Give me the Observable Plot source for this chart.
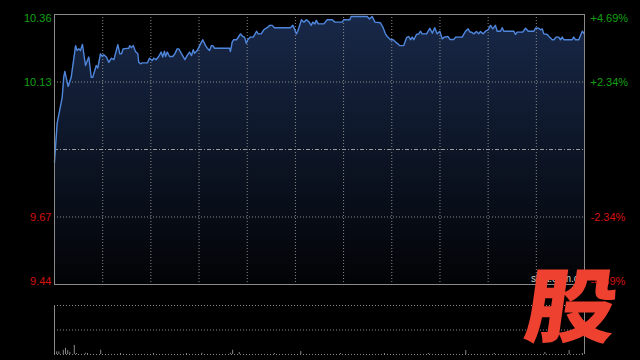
<!DOCTYPE html>
<html><head><meta charset="utf-8">
<script src="https://cdn.jsdelivr.net/npm/d3@7"></script>
<script src="https://cdn.jsdelivr.net/npm/@observablehq/plot@0.6"></script>
<style>
html,body{margin:0;padding:0;background:#000;}
#wrap{position:relative;width:640px;height:360px;background:#000;overflow:hidden;font-family:"Liberation Sans",Arial,sans-serif;}
#main,#vol{position:absolute;left:0;}
#main{top:0}
#vol{top:290px}
#wm{position:absolute;left:531px;top:273px;font-size:10px;line-height:12px;color:#cfcfcf;}
#logo{position:absolute;left:532px;top:260px;font-family:"Noto Sans CJK SC";font-weight:900;font-size:81px;line-height:81px;color:#ee4130;transform:skewX(-8deg) scaleX(1.13);transform-origin:50% 50%;}
</style></head><body>
<div id="wrap"><div id="main"></div><div id="vol"></div><div id="wm">sina.com.cn</div><div id="logo">股</div></div>
<script>
// ---- data ----
const sessionMinutes = 241;
const prevClose = 9.90;
const leftTicks = [10.36, 10.13, 9.67, 9.44];
const leftLabels = ["10.36", "10.13", "9.67", "9.44"];
const rightLabels = ["+4.69%", "+2.34%", "-2.34%", "-4.69%"];
const labelColors = ["#12a012", "#12a012", "#d41010", "#d41010"];

const times = [0,1.2,3.5,4.2,4.7,6.2,7.6,9.6,10.3,11.1,
11.8,12.7,14.1,15.6,16.7,17.4,19.0,19.7,20.9,21.7,
22.4,23.6,24.7,25.9,27.0,27.7,28.8,29.7,30.5,31.2,
33.8,34.2,35.0,35.8,36.8,37.9,38.3,39.1,39.9,42.2,
43.2,44.4,45.2,46.2,47.4,48.5,49.2,50.0,50.5,51.3,
52.3,53.8,54.7,55.8,56.5,57.8,59.3,60.3,61.4,62.3,
63.1,63.7,64.9,66.4,67.4,68.7,69.7,70.5,71.4,72.0,
72.8,79.6,80.0,80.8,81.5,82.8,83.8,84.6,85.6,86.4,
87.2,87.9,89.1,90.4,91.1,91.9,92.6,94.0,95.2,96.7,
97.9,99.0,100.0,107.3,108.4,109.1,110.0,110.6,111.5,112.3,
113.4,114.6,115.8,116.7,117.5,118.4,119.1,119.9,122.5,124.0,
126.3,127.5,130.8,131.6,134.3,134.9,142.2,143.2,144.5,145.7,
148.2,149.3,150.5,151.3,152.8,154.0,155.1,156.1,156.9,158.8,
160.1,161.1,161.9,162.7,163.4,164.6,165.7,166.4,167.2,169.2,
170.7,171.8,172.9,174.0,175.2,176.3,177.3,178.9,179.8,181.6,
182.4,185.4,186.9,188.1,188.9,189.6,190.7,191.9,192.9,193.7,
194.9,196.0,197.2,198.3,199.3,200.5,201.3,202.8,203.6,204.3,
208.9,209.6,210.4,212.9,214.2,215.4,218.0,218.7,220.2,221.0,
221.8,222.5,224.1,225.1,226.3,227.1,228.1,229.3,230.1,230.9,
231.6,235.4,236.1,236.9,238.4,240.0,241];

const prices = [9.857,9.989,10.078,10.146,10.166,10.115,10.146,10.254,10.237,10.243,
10.237,10.258,10.186,10.215,10.146,10.146,10.186,10.178,10.226,10.217,
10.223,10.215,10.197,10.211,10.206,10.226,10.257,10.226,10.226,10.243,
10.245,10.254,10.247,10.254,10.234,10.226,10.197,10.192,10.195,10.195,
10.211,10.203,10.211,10.206,10.217,10.232,10.215,10.235,10.217,10.232,
10.217,10.217,10.226,10.243,10.243,10.226,10.206,10.220,10.232,10.220,
10.240,10.228,10.237,10.260,10.274,10.254,10.243,10.237,10.254,10.254,
10.245,10.245,10.234,10.266,10.274,10.274,10.285,10.294,10.285,10.283,
10.262,10.274,10.283,10.283,10.292,10.303,10.294,10.294,10.308,10.315,
10.323,10.323,10.315,10.315,10.323,10.311,10.294,10.303,10.323,10.342,
10.334,10.342,10.334,10.323,10.334,10.328,10.340,10.328,10.328,10.342,
10.342,10.334,10.334,10.342,10.342,10.353,10.353,10.345,10.353,10.334,
10.332,10.317,10.294,10.285,10.274,10.274,10.266,10.260,10.254,10.254,
10.281,10.285,10.274,10.283,10.274,10.292,10.294,10.303,10.294,10.294,
10.313,10.296,10.315,10.294,10.303,10.277,10.283,10.285,10.275,10.275,
10.283,10.283,10.303,10.311,10.300,10.300,10.294,10.302,10.294,10.302,
10.294,10.303,10.308,10.323,10.311,10.323,10.303,10.303,10.315,10.303,
10.303,10.292,10.300,10.300,10.313,10.303,10.303,10.313,10.313,10.308,
10.311,10.294,10.292,10.283,10.274,10.274,10.283,10.283,10.274,10.283,
10.274,10.274,10.283,10.274,10.274,10.303,10.294];

const volTimes  = [0,1,2,4,5,6,7,9,10,14,15,21,30,45,60,67,80,81,84,100,112,130,150,170,187,200,223,234,240];
const volValues = [2.7,2.7,2.7,4.3,6.3,4,2.3,9.3,1,1.3,1,4.3,1,1,1,1.3,1.3,4.3,2,1,3,1,1,1,4,1,2,4,1];
const volMax = 50;

if (times.length !== prices.length) throw new Error("length mismatch " + times.length + " vs " + prices.length);

// ---- chart ----
const data = times.map((t, i) => ({t, price: prices[i]}));
const yMax = leftTicks[0], yMin = leftTicks[leftTicks.length - 1];
const gridLevels = leftTicks.slice(1, -1);
const xGrid = d3.range(1, 11).map(i => i * sessionMinutes / 11);
const gridStyle = {stroke: "#8a8a8a", strokeDasharray: "1,2"};

function labelMarks(texts, anchor, dx, textAnchor) {
  return texts.map((s, i) => Plot.text([i], {
    y: k => leftTicks[k], text: k => texts[k], frameAnchor: anchor, dx, textAnchor,
    fill: labelColors[i], lineAnchor: i === 0 ? "top" : i === texts.length - 1 ? "bottom" : "middle"
  }));
}

const main = Plot.plot({
  width: 640, height: 290,
  marginLeft: 54, marginRight: 56, marginTop: 14, marginBottom: 6,
  x: {domain: [0, sessionMinutes], axis: null},
  y: {domain: [yMin, yMax], axis: null},
  style: {background: "transparent", fontFamily: "Liberation Sans, Arial, sans-serif", fontSize: "11px"},
  marks: [
    Plot.areaY(data, {x: "t", y1: () => yMin, y2: "price", fill: "url(#pgrad)"}),
    Plot.ruleX(xGrid, gridStyle),
    Plot.ruleY(gridLevels, gridStyle),
    Plot.ruleY([prevClose], {stroke: "#9a9a9a", strokeDasharray: "4,2,1,2"}),
    Plot.lineY(data, {x: "t", y: "price", stroke: "#4f86dc", strokeWidth: 1.4}),
    Plot.frame({stroke: "#8a8a8a"}),
    ...labelMarks(leftLabels, "left", -3, "end"),
    ...labelMarks(rightLabels, "right", 6, "start")
  ]
});
const defs = d3.select(main).insert("defs", ":first-child");
const grad = defs.append("linearGradient").attr("id", "pgrad")
  .attr("x1", 0).attr("y1", 0).attr("x2", 0).attr("y2", 1);
grad.append("stop").attr("offset", "0%").attr("stop-color", "#182848");
grad.append("stop").attr("offset", "100%").attr("stop-color", "#020305");
document.getElementById("main").appendChild(main);

const volData = volTimes.map((t, i) => ({t, v: volValues[i]}));
const vol = Plot.plot({
  width: 640, height: 70,
  marginLeft: 54, marginRight: 56, marginTop: 15, marginBottom: 6,
  x: {domain: [0, sessionMinutes], axis: null},
  y: {domain: [0, volMax], axis: null},
  style: {background: "transparent"},
  marks: [
    Plot.ruleY([0, volMax / 2, volMax], gridStyle),
    Plot.ruleX([0, sessionMinutes], {stroke: "#8a8a8a"}),
    Plot.ruleX(volData, {x: "t", y1: 0, y2: "v", stroke: "#8a8a8a"})
  ]
});
document.getElementById("vol").appendChild(vol);
</script>
</body></html>
